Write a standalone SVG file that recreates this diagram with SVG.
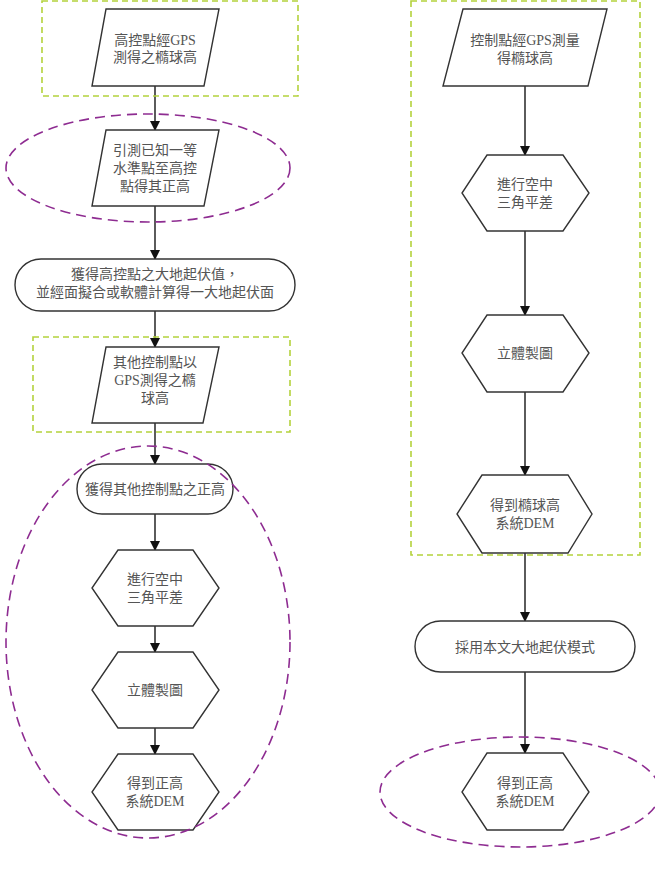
<svg xmlns="http://www.w3.org/2000/svg" width="655" height="879" viewBox="0 0 655 879">
<style>
.shape{fill:#fff;stroke:#333;stroke-width:1.4}
.grp{fill:none;stroke:#b4d23c;stroke-width:1.6;stroke-dasharray:6 4}
.ell{fill:none;stroke:#8e2c91;stroke-width:1.6;stroke-dasharray:10 6}
.con{fill:none;stroke:#333;stroke-width:1.6;marker-end:url(#arr)}
text{font-family:"Liberation Serif","Noto Sans CJK TC",serif;font-size:14px;fill:#555;text-anchor:middle}
</style>
<defs>
<marker id="arr" markerWidth="10" markerHeight="10" refX="9" refY="5" orient="auto" markerUnits="userSpaceOnUse">
<path d="M0,0 L10,5 L0,10 Z" fill="#111"/>
</marker>
</defs>
<rect width="655" height="879" fill="#fff"/>
<g id="connectors">
<line class="con" x1="155" y1="86" x2="155" y2="130"/>
<line class="con" x1="155" y1="206" x2="155" y2="259"/>
<line class="con" x1="155" y1="311" x2="155" y2="347"/>
<line class="con" x1="155" y1="423" x2="155" y2="464"/>
<line class="con" x1="155" y1="514" x2="155" y2="550"/>
<line class="con" x1="155" y1="626" x2="155" y2="652"/>
<line class="con" x1="155" y1="728" x2="155" y2="754"/>
<line class="con" x1="525" y1="86" x2="525" y2="155"/>
<line class="con" x1="525" y1="231" x2="525" y2="315"/>
<line class="con" x1="525" y1="392" x2="525" y2="475"/>
<line class="con" x1="525" y1="553" x2="525" y2="621"/>
<line class="con" x1="525" y1="672" x2="525" y2="753"/>
</g>
<g id="L1">
<polygon class="shape" points="106,9 219,9 204,86 92,86"/>
<text x="155" y="45">高控點經GPS</text>
<text x="155" y="62">測得之橢球高</text>
</g>
<g id="L2">
<polygon class="shape" points="106,130 219,130 204,206 92,206"/>
<text x="155" y="155">引測已知一等</text>
<text x="155" y="173">水準點至高控</text>
<text x="155" y="191">點得其正高</text>
</g>
<g id="L3">
<rect class="shape" x="15" y="259" width="280" height="52" rx="26"/>
<text x="155" y="279">獲得高控點之大地起伏值，</text>
<text x="155" y="297">並經面擬合或軟體計算得一大地起伏面</text>
</g>
<g id="L4">
<polygon class="shape" points="106,347 219,347 203,423 92,423"/>
<text x="155" y="367">其他控制點以</text>
<text x="155" y="385">GPS測得之橢</text>
<text x="155" y="403">球高</text>
</g>
<g id="L5">
<rect class="shape" x="77" y="464" width="156" height="50" rx="25"/>
<text x="155" y="494">獲得其他控制點之正高</text>
</g>
<g id="L6">
<polygon class="shape" points="118,550 193,550 219,588 193,626 118,626 92,588"/>
<text x="155" y="584">進行空中</text>
<text x="155" y="602">三角平差</text>
</g>
<g id="L7">
<polygon class="shape" points="118,652 193,652 219,690 193,728 118,728 92,690"/>
<text x="155" y="695">立體製圖</text>
</g>
<g id="L8">
<polygon class="shape" points="118,754 193,754 219,792 193,830 118,830 92,792"/>
<text x="155" y="788">得到正高</text>
<text x="155" y="806">系統DEM</text>
</g>
<g id="R1">
<polygon class="shape" points="463,9 607,9 588,86 443,86"/>
<text x="525" y="45">控制點經GPS測量</text>
<text x="525" y="63">得橢球高</text>
</g>
<g id="R2">
<polygon class="shape" points="487,155 563,155 589,193 563,231 487,231 462,193"/>
<text x="525" y="189">進行空中</text>
<text x="525" y="207">三角平差</text>
</g>
<g id="R3">
<polygon class="shape" points="487,315 563,315 589,353 563,392 487,392 462,353"/>
<text x="525" y="358">立體製圖</text>
</g>
<g id="R4">
<polygon class="shape" points="482,475 568,475 592,514 568,553 482,553 457,514"/>
<text x="525" y="510">得到橢球高</text>
<text x="525" y="528">系統DEM</text>
</g>
<g id="R5">
<rect class="shape" x="415" y="621" width="220" height="51" rx="25.5"/>
<text x="525" y="652">採用本文大地起伏模式</text>
</g>
<g id="R6">
<polygon class="shape" points="487,753 563,753 589,792 563,830 487,830 462,792"/>
<text x="525" y="788">得到正高</text>
<text x="525" y="806">系統DEM</text>
</g>
<g id="groups">
<rect class="grp" x="42" y="1" width="256" height="95"/>
<rect class="grp" x="33" y="337" width="257" height="95"/>
<rect class="grp" x="411" y="1" width="229" height="554"/>
<ellipse class="ell" cx="148" cy="168" rx="142" ry="54"/>
<ellipse class="ell" cx="148" cy="642" rx="142" ry="196"/>
<ellipse class="ell" cx="520" cy="792" rx="140" ry="55"/>
</g>
</svg>
